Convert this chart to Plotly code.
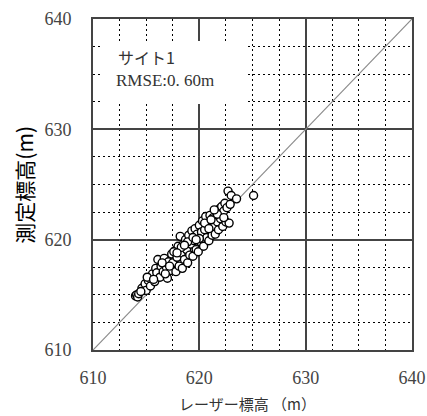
import plotly.graph_objects as go

laser = [614.0, 614.1, 614.2, 614.3, 614.6, 614.9, 615.0, 615.2, 615.4, 615.6, 615.8, 615.9, 616.0, 616.1, 616.3, 616.4, 616.6, 616.7, 616.9, 617.0,
         617.1, 617.3, 617.4, 617.5, 617.7, 617.8, 617.9, 618.0, 618.1, 618.2, 618.3, 618.4, 618.5, 618.6, 618.7, 618.8, 618.9, 619.0, 619.1, 619.2,
         619.3, 619.4, 619.5, 619.6, 619.7, 619.8, 619.9, 620.0, 620.1, 620.2, 620.3, 620.4, 620.5, 620.6, 620.7, 620.8, 620.9, 621.0, 621.1, 621.2,
         621.3, 621.4, 621.5, 621.6, 621.7, 621.8, 621.9, 622.0, 622.1, 622.2, 622.3, 622.4, 622.5, 622.6, 622.7, 622.8, 622.9, 623.0, 623.5, 625.1,
         614.5, 615.1, 615.7, 616.5, 617.2, 617.6, 618.3, 618.9, 619.4, 620.0, 620.5, 621.1, 621.7, 622.3, 619.7, 618.6, 617.9, 620.9, 621.4, 616.8]
measured = [614.9, 615.0, 614.8, 615.1, 615.6, 616.0, 615.4, 616.3, 615.8, 616.9, 616.2, 617.4, 617.0, 618.2, 616.6, 617.6, 617.1, 618.3, 617.5, 616.5,
            618.0, 617.2, 618.7, 617.9, 619.0, 617.1, 618.4, 619.4, 617.6, 620.3, 618.8, 617.4, 619.6, 618.2, 620.0, 619.1, 617.9, 620.4, 618.6, 619.6,
            620.8, 618.5, 619.9, 621.0, 619.1, 620.5, 618.9, 621.3, 619.8, 620.7, 621.7, 619.4, 620.9, 622.1, 620.2, 621.4, 619.9, 622.2, 621.0, 620.4,
            622.0, 621.2, 620.5, 622.5, 621.6, 620.9, 622.8, 621.9, 623.0, 621.2, 622.6, 623.3, 621.6, 622.9, 624.4, 621.5, 623.2, 624.0, 623.7, 624.0,
            615.3, 616.6, 616.4, 617.9, 617.6, 618.9, 619.3, 619.8, 620.2, 620.1, 621.5, 621.8, 622.3, 622.0, 620.0, 619.5, 618.8, 621.0, 622.7, 616.9]
axis_range = [610, 640]
tick_vals = [610, 620, 630, 640]
tick_text = ["610", "620", "630", "640"]
label_site = "サイト1"
label_rmse = "RMSE:0. 60m"
x_title = "レーザー標高 （m）"
y_title = "測定標高(m)"

serif = "Liberation Serif, DejaVu Serif, serif"
cjk = "Noto Sans CJK JP"

fig = go.Figure()
fig.add_trace(go.Scatter(x=axis_range, y=axis_range, mode="lines",
                         line=dict(color="#8a8a8a", width=1.2), hoverinfo="skip", showlegend=False))
fig.add_trace(go.Scatter(x=laser, y=measured, mode="markers",
                         marker=dict(symbol="circle", size=8, color="white",
                                     line=dict(color="black", width=1.4)),
                         showlegend=False))

fig.add_shape(type="rect", x0=610.85, x1=624.3, y0=632.3, y1=638.0,
              fillcolor="white", line=dict(width=0), layer="between")
fig.add_annotation(x=612.2, y=636.56, text=label_site, showarrow=False, xanchor="left", yanchor="middle",
                   font=dict(family=cjk, size=16, color="#333"))
fig.add_annotation(x=612.0, y=634.39, text=label_rmse, showarrow=False, xanchor="left", yanchor="middle",
                   font=dict(family=serif, size=17, color="#333"))

fig.add_annotation(xref="paper", yref="paper", x=0.483, y=-0.163, text=x_title, showarrow=False,
                   xanchor="center", yanchor="middle", font=dict(family=cjk, size=15, color="#333"))
fig.add_annotation(xref="paper", yref="paper", x=-0.219, y=0.50, text=y_title, showarrow=False,
                   textangle=-90, xanchor="center", yanchor="middle",
                   font=dict(family=cjk, size=21, color="black"))

ax_common = dict(range=axis_range, tickvals=tick_vals, ticktext=tick_text, automargin=False,
                 showline=True, mirror=True, linecolor="#444", linewidth=2,
                 showgrid=True, gridcolor="#444", gridwidth=1.6,
                 zeroline=False, ticks="", fixedrange=True,
                 tickfont=dict(family=serif, size=18, color="#444"),
                 minor=dict(dtick=2.5, tick0=610, showgrid=True, gridcolor="black",
                            gridwidth=1.4, griddash="2px,3px"))

fig.update_xaxes(**ax_common, ticklabelstandoff=10)
fig.update_yaxes(**ax_common, ticklabelstandoff=16)

fig.update_layout(width=427, height=416, margin=dict(l=93, r=15, t=19, b=66),
                  plot_bgcolor="white", paper_bgcolor="white")

fig.write_html("out.html", config={"displayModeBar": False},
               post_script="document.body.style.margin='0';document.body.style.overflow='hidden';")
